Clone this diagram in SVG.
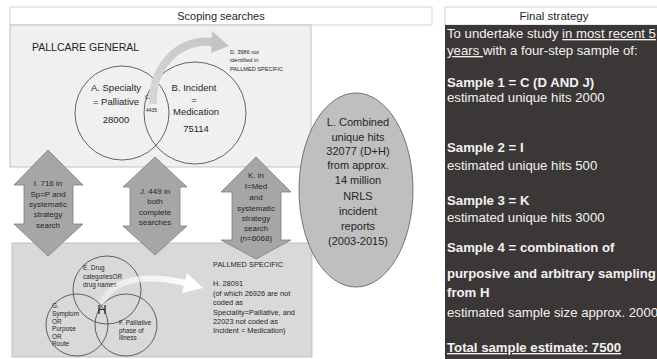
<svg xmlns="http://www.w3.org/2000/svg" width="657" height="359" viewBox="0 0 657 359">
<defs>
<style>
.t{font-family:"Liberation Sans",Arial,sans-serif;fill:#262626}
.c{text-anchor:middle}
.w{font-family:"Liberation Sans",Arial,sans-serif;fill:#f2f2f2;font-size:13.2px}
.b{font-weight:bold}
.circ{fill:none;stroke:#404040;stroke-width:0.8}
.dbl{fill:#a6a6a6;stroke:#7f7f7f;stroke-width:0.8}
</style>
<linearGradient id="gg" gradientUnits="userSpaceOnUse" x1="150" y1="100" x2="225" y2="40">
<stop offset="0" stop-color="#d6d6d6"/><stop offset="1" stop-color="#c4c4c4"/>
</linearGradient>
<linearGradient id="wg" gradientUnits="userSpaceOnUse" x1="100" y1="300" x2="200" y2="285">
<stop offset="0" stop-color="#ffffff" stop-opacity="0.4"/><stop offset="1" stop-color="#ffffff" stop-opacity="1"/>
</linearGradient>
</defs>
<rect width="657" height="359" fill="#ffffff"/>

<g id="scoping-header">
<rect x="10" y="7" width="422" height="18" fill="#ffffff" stroke="#c8c8c8" stroke-width="0.8"/>
<text class="t c" x="221" y="20" font-size="11">Scoping searches</text>
</g>

<g id="pallcare-general">
<rect x="10" y="25" width="301" height="142" fill="#f0f0f0" stroke="#a8bace" stroke-width="0.8"/>
<text class="t" x="32" y="51" font-size="10.5">PALLCARE GENERAL</text>
</g>

<g id="pallmed-specific">
<rect x="12" y="243" width="300" height="114" fill="#d9d9d9" stroke="#a8bace" stroke-width="0.8"/>
<text class="t" x="213" y="267" font-size="7.4">PALLMED SPECIFIC</text>
<text class="t" x="213" y="286" font-size="7.4">H. 28091</text>
<text class="t" x="213" y="296" font-size="7.4">(of which 26926  are not</text>
<text class="t" x="213" y="305" font-size="7.4">coded as</text>
<text class="t" x="213" y="315" font-size="7.4">Speciality=Palliative, and</text>
<text class="t" x="213" y="324" font-size="7.4">22023  not coded as</text>
<text class="t" x="213" y="333" font-size="7.4">Incident = Medication)</text>
</g>

<g id="circle-a">
<circle class="circ" cx="122" cy="113" r="47"/>
<text class="t c" x="116" y="91" font-size="9.5">A. Specialty</text>
<text class="t c" x="116" y="105" font-size="9.5">= Palliative</text>
<text class="t c" x="116" y="123" font-size="9.5">28000</text>
</g>

<g id="circle-b">
<circle class="circ" cx="195" cy="113" r="51"/>
<text class="t c" x="194" y="91" font-size="9.5">B. Incident</text>
<text class="t c" x="194" y="103" font-size="9.5">=</text>
<text class="t c" x="196" y="115" font-size="9.5">Medication</text>
<text class="t c" x="196" y="132" font-size="9.5">75114</text>
</g>

<g id="note-d">
<text class="t" x="230" y="54" font-size="5.6">D. 3986 not</text>
<text class="t" x="230" y="62" font-size="5.6">identified in</text>
<text class="t" x="230" y="71" font-size="5.6">PALLMED  SPECIFIC</text>
</g>

<g id="circle-e">
<circle class="circ" cx="107" cy="290" r="34"/>
<text class="t" x="83" y="270" font-size="6.4">E. Drug</text>
<text class="t" x="83" y="279" font-size="6.4">categoriesOR</text>
<text class="t" x="83" y="287" font-size="6.4">drug names</text>
</g>
<g id="circle-g">
<circle class="circ" cx="77" cy="325" r="31"/>
<text class="t" x="52" y="308" font-size="6.4">G.</text>
<text class="t" x="52" y="316" font-size="6.4">Symptom</text>
<text class="t" x="52" y="324" font-size="6.4">OR</text>
<text class="t" x="52" y="331" font-size="6.4">Purpose</text>
<text class="t" x="52" y="339" font-size="6.4">OR</text>
<text class="t" x="52" y="346" font-size="6.4">Route</text>
</g>
<g id="circle-f">
<circle class="circ" cx="126" cy="325" r="31"/>
<text class="t" x="119" y="325" font-size="6.4">F. Palliative</text>
<text class="t" x="119" y="333" font-size="6.4">phase of</text>
<text class="t" x="119" y="340" font-size="6.4">illness</text>
</g>

<g id="connectors">
<path d="M153,104 C151,70 176,38 214,42" fill="none" stroke="url(#gg)" stroke-width="8"/>
<polygon points="212,31 229,46 211,53" fill="#c4c4c4"/>
<path d="M101,304 Q118,268 185,283" fill="none" stroke="url(#wg)" stroke-width="6"/>
<polygon points="187,273 203,288 182,293" fill="#ffffff"/>
</g>

<g id="overlap-c">
<text class="t" x="145" y="99" font-size="5">C.</text>
<text class="t" x="146" y="112" font-size="5">4435</text>
</g>
<g id="overlap-h">
<text class="t c" x="102" y="314" font-size="13">H</text>
</g>

<g id="arrow-i">
<polygon class="dbl" points="48,150 83,185 73,185 73,224 83,224 48,256 14,224 24,224 24,185 14,185"/>
<text class="t c" x="48" y="186" font-size="8">I. 716 in</text>
<text class="t c" x="48" y="197" font-size="8">Sp=P and</text>
<text class="t c" x="48" y="207" font-size="8">systematic</text>
<text class="t c" x="48" y="217" font-size="8">strategy</text>
<text class="t c" x="48" y="228" font-size="8">search</text>
</g>

<g id="arrow-j">
<polygon class="dbl" points="155,157 187,187 180,187 180,226 187,226 155,255 123,226 130,226 130,187 123,187"/>
<text class="t c" x="155" y="194" font-size="8">J. 449 in</text>
<text class="t c" x="155" y="204" font-size="8">both</text>
<text class="t c" x="155" y="215" font-size="8">complete</text>
<text class="t c" x="155" y="225" font-size="8">searches</text>
</g>

<g id="arrow-k">
<polygon class="dbl" points="256,157 291,192 281,192 281,240 291,240 256,259 221,240 232,240 232,192 221,192"/>
<text class="t c" x="256" y="178" font-size="8">K. in</text>
<text class="t c" x="256" y="189" font-size="8">I=Med</text>
<text class="t c" x="256" y="200" font-size="8">and</text>
<text class="t c" x="256" y="211" font-size="8">systematic</text>
<text class="t c" x="256" y="221" font-size="8">strategy</text>
<text class="t c" x="256" y="231" font-size="8">search</text>
<text class="t c" x="256" y="241" font-size="8">(n=6068)</text>
</g>

<g id="ellipse-l">
<ellipse cx="356" cy="190" rx="57" ry="97" fill="#bfbfbf" stroke="#595959" stroke-width="0.8"/>
<text class="t c" x="358" y="126" font-size="11">L. Combined</text>
<text class="t c" x="358" y="141" font-size="11">unique hits</text>
<text class="t c" x="358" y="155" font-size="11">32077 (D+H)</text>
<text class="t c" x="358" y="169" font-size="11">from approx.</text>
<text class="t c" x="358" y="184" font-size="11">14 million</text>
<text class="t c" x="358" y="200" font-size="11">NRLS</text>
<text class="t c" x="358" y="215" font-size="11">incident</text>
<text class="t c" x="358" y="230" font-size="11">reports</text>
<text class="t c" x="358" y="245" font-size="11">(2003-2015)</text>
</g>

<g id="final-strategy">
<rect x="445" y="7" width="215" height="18" fill="#ffffff" stroke="#c8c8c8" stroke-width="0.8"/>
<text class="t c" x="554" y="20" font-size="11.5">Final strategy</text>
<rect x="445" y="25" width="215" height="336" fill="#3b3736"/>
<text class="w" x="447" y="38">To undertake study <tspan text-decoration="underline"> in most recent 5</tspan></text>
<text class="w" x="447" y="55"><tspan text-decoration="underline">years </tspan>with a four-step sample of:</text>
<text class="w b" x="447" y="87">Sample 1 = C (D AND J)</text>
<text class="w" x="447" y="102">estimated unique hits 2000</text>
<text class="w b" x="447" y="152">Sample 2 = I</text>
<text class="w" x="447" y="170">estimated unique hits 500</text>
<text class="w b" x="447" y="205">Sample 3 = K</text>
<text class="w" x="447" y="222">estimated unique hits 3000</text>
<text class="w b" x="447" y="252">Sample 4 = combination of</text>
<text class="w b" x="447" y="278">purposive and arbitrary sampling</text>
<text class="w b" x="447" y="297">from H</text>
<text class="w" x="447" y="317">estimated sample size approx. 2000</text>
<text class="w b" x="447" y="352" text-decoration="underline">Total sample estimate: 7500</text>
</g>
</svg>
